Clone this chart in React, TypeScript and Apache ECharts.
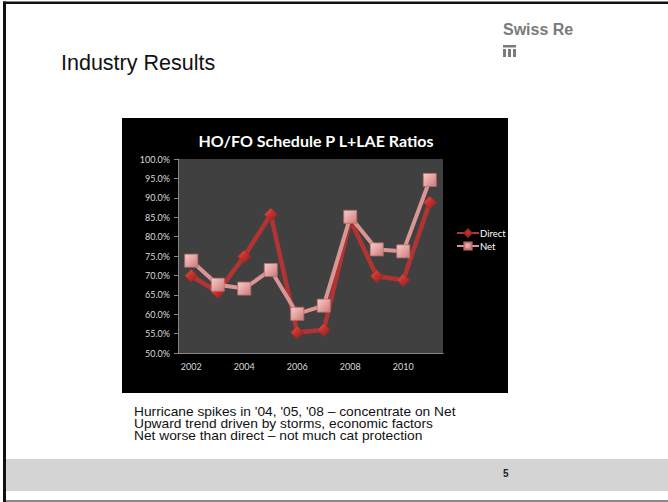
import React, { useEffect, useRef } from "react";
import * as echarts from "echarts";

const years = ["2002", "2003", "2004", "2005", "2006", "2007", "2008", "2009", "2010", "2011"];
const directValues = [69.9, 65.7, 74.9, 85.7, 55.3, 56.0, 84.3, 69.8, 68.8, 88.8];
const netValues = [73.8, 67.6, 66.6, 71.4, 60.1, 62.2, 85.1, 76.7, 76.2, 94.6];
const seriesNames = ["Direct", "Net"];
const chartTitle = "HO/FO Schedule P L+LAE Ratios";
const slideTitle = "Industry Results";
const bullets = [
  "Hurricane spikes in '04, '05, '08 \u2013 concentrate on Net",
  "Upward trend driven by storms, economic factors",
  "Net worse than direct \u2013 not much cat protection",
];
const pageNumber = "5";
const brand = "Swiss Re";

export default function App() {
  const ref = useRef<HTMLDivElement>(null);
  useEffect(() => {
    if (!ref.current) return;
    const chart = echarts.init(ref.current, null, { renderer: "svg" });
    const chartFont = "Lato, 'Open Sans', sans-serif";
    const slideFont = "'Liberation Sans', Arial, sans-serif";
    chart.setOption({
      animation: false,
      backgroundColor: "#ffffff",
      title: {
        text: chartTitle,
        left: 311,
        top: 127,
        textAlign: "center",
        textStyle: { color: "#ffffff", fontFamily: chartFont, fontWeight: "bold", fontSize: 16 },
      },
      legend: {
        orient: "vertical",
        left: 451,
        top: 223,
        itemWidth: 22,
        itemHeight: 9,
        itemGap: 3,
        data: seriesNames,
        textStyle: { color: "#ffffff", fontFamily: chartFont, fontSize: 9.5, padding: [0, 0, 0, -4] },
      },
      grid: {
        left: 178,
        top: 159,
        width: 265,
        height: 194,
        show: true,
        backgroundColor: "#404040",
        borderWidth: 0,
      },
      xAxis: {
        type: "category",
        data: years,
        boundaryGap: true,
        axisLine: { lineStyle: { color: "#868686", width: 1 } },
        axisTick: { interval: 1, length: 4, lineStyle: { color: "#868686" } },
        axisLabel: { interval: 1, color: "#d9d9d9", fontFamily: chartFont, fontSize: 9, margin: 9 },
        splitLine: { show: false },
      },
      yAxis: {
        type: "value",
        min: 50,
        max: 100,
        interval: 5,
        axisLine: { show: true, lineStyle: { color: "#868686", width: 1 } },
        axisTick: { show: true, length: 4, lineStyle: { color: "#868686" } },
        axisLabel: {
          color: "#d9d9d9",
          fontFamily: chartFont,
          fontSize: 9,
          margin: 8,
          formatter: (v: number) => v.toFixed(1) + "%",
        },
        splitLine: { show: false },
      },
      series: [
        {
          name: seriesNames[0],
          type: "line",
          data: directValues,
          symbol: "diamond",
          symbolSize: 13,
          lineStyle: { color: "#b03434", width: 4.5 },
          itemStyle: {
            color: new echarts.graphic.LinearGradient(0, 0, 1, 1, [
              { offset: 0, color: "#e05a55" },
              { offset: 0.5, color: "#c0302c" },
              { offset: 1, color: "#8e1e1c" },
            ]),
            borderColor: "#9a2a28",
            borderWidth: 0.8,
          },
          z: 2,
        },
        {
          name: seriesNames[1],
          type: "line",
          data: netValues,
          symbol: "rect",
          symbolSize: 13,
          lineStyle: { color: "#d99694", width: 4 },
          itemStyle: {
            color: new echarts.graphic.LinearGradient(0, 0, 1, 1, [
              { offset: 0, color: "#f6cccb" },
              { offset: 0.5, color: "#e6a3a2" },
              { offset: 1, color: "#c47b7a" },
            ]),
            borderColor: "#b86e6d",
            borderWidth: 0.8,
          },
          z: 3,
        },
      ],
      graphic: [
        { type: "rect", z: -20, shape: { x: 0, y: 0, width: 668, height: 502 }, style: { fill: "#ffffff" } },
        { type: "rect", z: -15, shape: { x: 3, y: 1.5, width: 665, height: 2.5 }, style: { fill: "#111111" } },
        { type: "rect", z: -15, shape: { x: 3, y: 1.5, width: 3, height: 500.5 }, style: { fill: "#111111" } },
        { type: "rect", z: -15, shape: { x: 6, y: 459, width: 662, height: 32 }, style: { fill: "#d4d4d4" } },
        { type: "rect", z: -15, shape: { x: 6, y: 500, width: 662, height: 2 }, style: { fill: "#8a8a8a" } },
        { type: "rect", z: -10, shape: { x: 122, y: 118, width: 386, height: 275 }, style: { fill: "#000000" } },
        {
          type: "text",
          z: 5,
          x: 61,
          y: 63,
          style: { text: slideTitle, fill: "#111111", font: `21.5px ${slideFont}`, textVerticalAlign: "middle" },
        },
        {
          type: "text",
          z: 5,
          x: 503,
          y: 29,
          style: {
            text: brand,
            fill: "#7a7a7a",
            font: `bold 16px ${slideFont}`,
            textVerticalAlign: "middle",
          },
        },
        { type: "rect", z: 5, shape: { x: 503, y: 45, width: 13, height: 2.5 }, style: { fill: "#7a7a7a" } },
        { type: "rect", z: 5, shape: { x: 503, y: 49, width: 3, height: 8 }, style: { fill: "#7a7a7a" } },
        { type: "rect", z: 5, shape: { x: 508, y: 49, width: 3, height: 8 }, style: { fill: "#7a7a7a" } },
        { type: "rect", z: 5, shape: { x: 513, y: 49, width: 3, height: 8 }, style: { fill: "#7a7a7a" } },
        ...bullets.map((b, i) => ({
          type: "text",
          z: 5,
          x: 134,
          y: 412 + i * 11.7,
          scaleX: 1.06,
          style: { text: b, fill: "#111111", font: `13px ${slideFont}`, textVerticalAlign: "middle" },
        })),
        {
          type: "text",
          z: 5,
          x: 503,
          y: 473,
          style: { text: pageNumber, fill: "#222222", font: `bold 10px ${slideFont}`, textVerticalAlign: "middle" },
        },
      ],
    });
    return () => chart.dispose();
  }, []);
  return (
    <div
      ref={ref}
      style={{ position: "absolute", left: 0, top: 0, width: 668, height: 502 }}
    />
  );
}
